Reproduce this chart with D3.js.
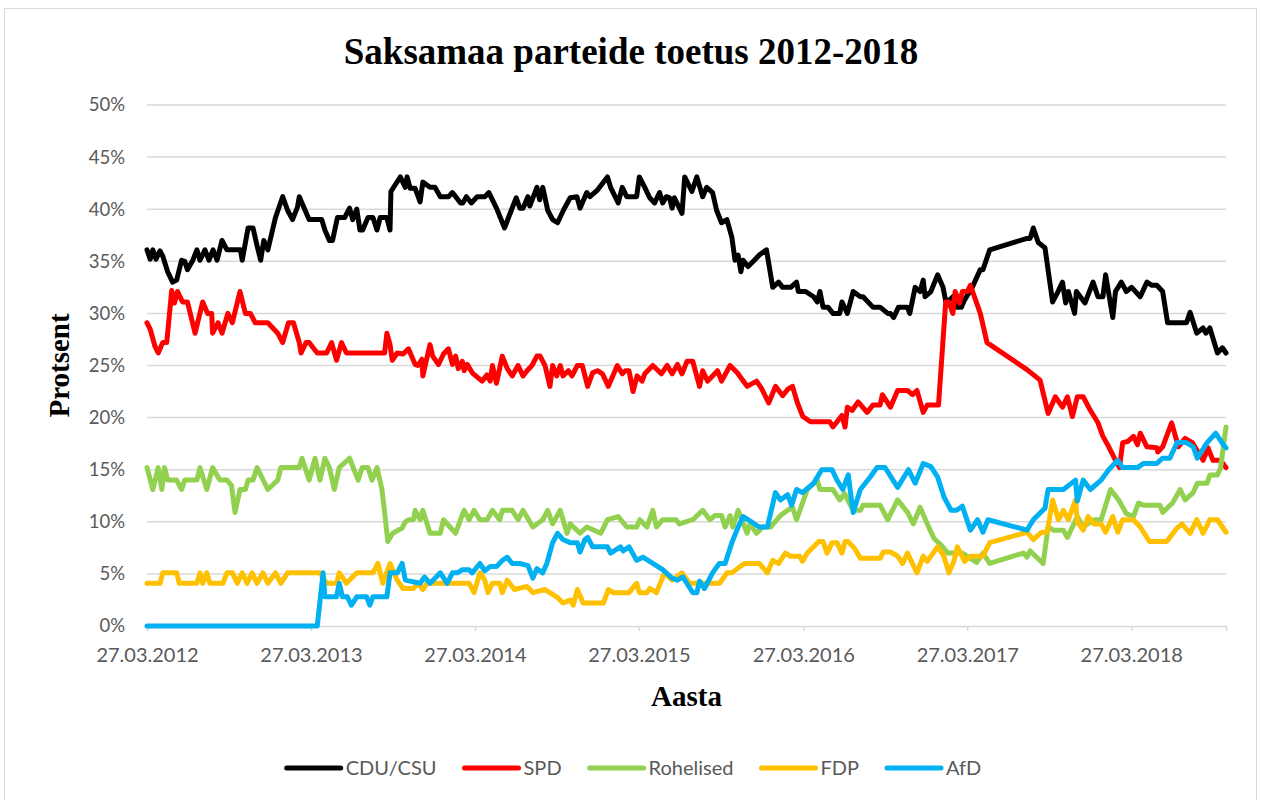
<!DOCTYPE html>
<html>
<head>
<meta charset="utf-8">
<script src="https://cdn.jsdelivr.net/npm/d3@7"></script>
<style>
  body { margin: 0; background: #fff; }
  svg { display: block; }
</style>
</head>
<body>
<svg id="chart"></svg>
<script>
// ---- data ----
const seriesNames = ["CDU/CSU", "SPD", "Rohelised", "FDP", "AfD"];
const seriesColors = ["#000000", "#ff0000", "#92d050", "#ffc000", "#00b0f0"];
const yTickValues = [0, 5, 10, 15, 20, 25, 30, 35, 40, 45, 50];
const xTickDates = ["2012-03-27", "2013-03-27", "2014-03-27", "2015-03-27", "2016-03-27", "2017-03-27", "2018-03-27"];
const xDomain = ["2012-03-27", "2018-10-24"];

const cduCsu = [["2012-03-27",36.1],["2012-04-03",35.2],["2012-04-09",36.1],["2012-04-16",35.2],["2012-04-25",36.0],["2012-05-01",35.5],["2012-05-12",34.0],["2012-05-23",33.0],["2012-06-01",33.2],["2012-06-12",35.1],["2012-06-19",35.0],["2012-06-25",34.2],["2012-07-07",35.1],["2012-07-16",36.1],["2012-07-23",35.1],["2012-08-03",36.1],["2012-08-12",35.1],["2012-08-21",36.1],["2012-08-30",35.1],["2012-09-10",37.0],["2012-09-21",36.1],["2012-10-21",36.1],["2012-10-25",35.1],["2012-11-07",38.2],["2012-11-18",38.2],["2012-11-27",36.5],["2012-12-05",35.1],["2012-12-12",37.0],["2012-12-21",36.1],["2013-01-07",39.2],["2013-01-23",41.2],["2013-02-03",39.9],["2013-02-14",39.0],["2013-02-25",40.2],["2013-03-01",41.2],["2013-03-12",40.1],["2013-03-23",39.0],["2013-04-20",39.0],["2013-04-27",38.0],["2013-05-07",37.0],["2013-05-14",37.0],["2013-05-25",39.2],["2013-06-10",39.2],["2013-06-21",40.1],["2013-06-28",39.0],["2013-07-07",40.0],["2013-07-14",38.0],["2013-07-20",38.0],["2013-08-01",39.2],["2013-08-12",39.2],["2013-08-21",38.0],["2013-08-28",39.2],["2013-09-12",39.2],["2013-09-19",38.0],["2013-09-21",41.7],["2013-10-12",43.1],["2013-10-23",42.1],["2013-10-27",43.1],["2013-11-03",42.0],["2013-11-14",42.0],["2013-11-25",40.7],["2013-12-01",42.6],["2013-12-17",42.1],["2013-12-28",42.1],["2014-01-09",41.2],["2014-01-27",41.2],["2014-02-05",41.6],["2014-02-23",40.6],["2014-02-28",40.6],["2014-03-08",41.2],["2014-03-19",40.6],["2014-04-01",41.2],["2014-04-18",41.2],["2014-04-27",41.6],["2014-05-14",40.1],["2014-06-01",38.2],["2014-06-16",39.9],["2014-06-27",41.1],["2014-07-05",40.1],["2014-07-12",40.1],["2014-07-23",41.2],["2014-07-27",40.3],["2014-08-12",42.1],["2014-08-18",40.9],["2014-08-25",42.1],["2014-09-05",39.9],["2014-09-16",39.0],["2014-09-27",38.7],["2014-10-10",39.9],["2014-10-25",41.1],["2014-11-09",41.2],["2014-11-16",40.1],["2014-12-01",41.6],["2014-12-08",41.2],["2014-12-24",41.8],["2015-01-16",43.1],["2015-01-23",42.1],["2015-02-09",40.6],["2015-02-18",42.1],["2015-02-28",41.2],["2015-03-22",41.2],["2015-03-28",43.1],["2015-04-09",42.1],["2015-04-20",41.1],["2015-05-01",40.6],["2015-05-12",41.6],["2015-05-19",40.6],["2015-05-27",41.2],["2015-06-03",41.1],["2015-06-09",40.1],["2015-06-14",41.1],["2015-07-01",39.6],["2015-07-07",43.1],["2015-07-23",41.7],["2015-08-03",43.1],["2015-08-16",41.2],["2015-08-25",42.1],["2015-09-07",41.6],["2015-09-16",39.9],["2015-09-27",38.7],["2015-10-09",39.0],["2015-10-20",37.3],["2015-10-27",35.1],["2015-11-03",35.6],["2015-11-09",34.0],["2015-11-14",35.1],["2015-11-25",34.5],["2015-12-09",35.1],["2015-12-20",35.6],["2016-01-05",36.1],["2016-01-19",32.5],["2016-02-01",33.0],["2016-02-10",32.5],["2016-02-28",32.5],["2016-03-12",33.0],["2016-03-16",32.1],["2016-04-01",32.1],["2016-04-19",31.6],["2016-04-27",31.1],["2016-05-03",32.1],["2016-05-10",30.6],["2016-05-21",30.6],["2016-06-01",30.0],["2016-06-16",30.0],["2016-06-21",31.1],["2016-07-03",30.0],["2016-07-16",32.1],["2016-08-01",31.6],["2016-08-07",31.6],["2016-08-29",30.6],["2016-09-14",30.6],["2016-10-01",30.0],["2016-10-07",30.0],["2016-10-14",29.6],["2016-10-25",30.6],["2016-11-14",30.6],["2016-11-19",30.0],["2016-12-01",32.5],["2016-12-12",32.1],["2016-12-19",33.2],["2016-12-23",31.6],["2017-01-05",32.1],["2017-01-20",33.7],["2017-02-01",32.5],["2017-02-08",31.0],["2017-02-23",31.6],["2017-03-03",30.6],["2017-03-14",30.6],["2017-03-21",31.3],["2017-04-07",32.5],["2017-04-25",34.2],["2017-05-01",34.2],["2017-05-16",36.1],["2017-08-07",37.2],["2017-08-14",37.2],["2017-08-21",38.2],["2017-09-01",36.8],["2017-09-16",36.3],["2017-10-03",31.1],["2017-10-14",32.0],["2017-10-25",33.0],["2017-11-01",31.0],["2017-11-07",32.1],["2017-11-21",30.0],["2017-11-25",32.1],["2017-12-14",31.0],["2018-01-01",33.0],["2018-01-12",31.6],["2018-01-23",31.6],["2018-01-29",33.7],["2018-02-14",29.6],["2018-02-20",32.1],["2018-03-05",33.0],["2018-03-16",32.1],["2018-03-28",32.5],["2018-04-16",31.6],["2018-05-01",33.0],["2018-05-12",32.7],["2018-05-23",32.7],["2018-06-05",32.1],["2018-06-16",29.1],["2018-07-28",29.1],["2018-08-05",30.1],["2018-08-20",28.1],["2018-09-03",28.6],["2018-09-09",28.1],["2018-09-18",28.6],["2018-10-05",26.2],["2018-10-16",26.7],["2018-10-24",26.2]];

const spd = [["2012-03-27",29.1],["2012-04-03",28.5],["2012-04-14",26.8],["2012-04-21",26.2],["2012-05-01",27.2],["2012-05-10",27.2],["2012-05-21",32.2],["2012-05-27",31.0],["2012-06-03",32.1],["2012-06-14",31.1],["2012-06-25",31.1],["2012-07-12",28.1],["2012-07-29",31.1],["2012-08-09",30.0],["2012-08-18",30.0],["2012-08-20",28.1],["2012-09-01",29.1],["2012-09-10",28.1],["2012-09-23",30.0],["2012-10-03",29.1],["2012-10-20",32.1],["2012-11-01",30.0],["2012-11-12",30.0],["2012-11-23",29.1],["2012-12-21",29.1],["2013-01-12",28.1],["2013-01-23",27.2],["2013-02-05",29.1],["2013-02-16",29.1],["2013-03-01",27.2],["2013-03-05",26.2],["2013-03-16",27.2],["2013-03-23",27.2],["2013-04-10",26.2],["2013-05-01",26.2],["2013-05-12",27.2],["2013-05-23",25.5],["2013-06-03",27.2],["2013-06-14",26.2],["2013-09-07",26.2],["2013-09-12",28.1],["2013-09-19",27.0],["2013-09-24",25.5],["2013-10-05",26.2],["2013-10-18",26.1],["2013-10-30",26.6],["2013-11-14",25.1],["2013-11-20",25.0],["2013-11-29",25.6],["2013-12-01",24.0],["2013-12-17",27.0],["2013-12-23",25.9],["2014-01-05",25.1],["2014-01-16",26.1],["2014-01-27",26.6],["2014-02-05",25.1],["2014-02-12",25.9],["2014-02-18",24.7],["2014-02-27",25.4],["2014-03-03",24.5],["2014-03-10",25.1],["2014-03-21",24.3],["2014-04-12",23.5],["2014-04-23",24.1],["2014-04-30",23.5],["2014-05-05",25.0],["2014-05-14",23.3],["2014-05-27",25.9],["2014-06-07",24.7],["2014-06-18",24.0],["2014-07-01",25.0],["2014-07-12",24.0],["2014-07-21",24.5],["2014-08-01",25.0],["2014-08-12",25.9],["2014-08-19",25.9],["2014-08-30",25.0],["2014-09-10",23.0],["2014-09-16",25.0],["2014-09-25",24.0],["2014-10-03",25.0],["2014-10-09",24.0],["2014-10-21",24.5],["2014-10-29",24.0],["2014-11-10",25.0],["2014-11-21",25.0],["2014-12-03",23.0],["2014-12-14",24.3],["2014-12-25",24.5],["2015-01-05",24.2],["2015-01-18",23.0],["2015-02-07",25.0],["2015-02-18",24.2],["2015-02-25",24.5],["2015-03-05",24.5],["2015-03-14",22.5],["2015-03-23",24.0],["2015-04-03",23.5],["2015-04-09",24.2],["2015-04-27",25.0],["2015-05-16",24.2],["2015-05-29",25.0],["2015-06-09",24.2],["2015-06-21",25.1],["2015-07-01",24.2],["2015-07-12",25.4],["2015-07-25",25.4],["2015-08-09",23.0],["2015-08-16",24.5],["2015-08-27",23.5],["2015-09-07",24.0],["2015-09-18",24.5],["2015-09-27",23.5],["2015-10-16",25.0],["2015-11-01",24.3],["2015-11-23",23.0],["2015-12-14",23.5],["2015-12-25",22.8],["2016-01-10",21.4],["2016-01-25",23.0],["2016-02-10",22.1],["2016-02-21",22.7],["2016-03-03",23.0],["2016-03-14",21.4],["2016-03-26",20.1],["2016-04-12",19.6],["2016-05-25",19.6],["2016-06-01",19.1],["2016-06-21",20.2],["2016-06-28",19.1],["2016-07-03",21.0],["2016-07-14",20.7],["2016-07-27",21.5],["2016-08-16",20.5],["2016-08-29",21.2],["2016-09-14",21.2],["2016-09-19",22.2],["2016-10-07",21.0],["2016-10-23",22.6],["2016-11-14",22.6],["2016-11-25",22.2],["2016-12-05",22.6],["2016-12-19",20.5],["2016-12-28",21.2],["2017-01-22",21.2],["2017-02-07",31.1],["2017-02-14",31.1],["2017-02-23",30.0],["2017-02-28",32.1],["2017-03-10",31.0],["2017-03-16",32.1],["2017-03-27",32.1],["2017-04-03",32.7],["2017-04-25",30.0],["2017-05-10",27.2],["2017-08-07",24.6],["2017-09-05",23.6],["2017-09-23",20.4],["2017-10-09",22.0],["2017-10-25",21.0],["2017-11-05",22.0],["2017-11-16",20.1],["2017-11-27",22.0],["2017-12-10",22.0],["2017-12-26",20.7],["2018-01-12",19.5],["2018-01-23",18.2],["2018-02-05",17.2],["2018-02-20",15.9],["2018-03-01",15.2],["2018-03-08",17.6],["2018-03-19",17.7],["2018-04-01",18.2],["2018-04-10",17.4],["2018-04-16",18.5],["2018-05-01",17.2],["2018-05-23",17.1],["2018-05-25",16.7],["2018-06-05",17.2],["2018-06-25",19.5],["2018-07-10",17.2],["2018-07-25",18.0],["2018-08-10",17.6],["2018-09-03",15.9],["2018-09-14",17.1],["2018-09-25",15.9],["2018-10-12",15.9],["2018-10-24",15.2]];

const rohelised = [["2012-03-27",15.2],["2012-04-09",13.1],["2012-04-21",15.2],["2012-04-29",13.1],["2012-05-05",15.2],["2012-05-12",14.0],["2012-06-01",14.0],["2012-06-12",13.1],["2012-06-19",14.0],["2012-07-16",14.0],["2012-07-23",15.2],["2012-08-07",13.1],["2012-08-20",15.2],["2012-09-05",14.0],["2012-09-21",14.0],["2012-10-01",13.5],["2012-10-09",10.9],["2012-10-20",13.1],["2012-11-01",13.1],["2012-11-07",14.0],["2012-11-18",14.0],["2012-11-27",15.2],["2012-12-21",13.1],["2013-01-12",14.0],["2013-01-19",15.2],["2013-03-01",15.2],["2013-03-07",16.1],["2013-03-23",14.0],["2013-04-05",16.1],["2013-04-16",14.0],["2013-04-27",16.1],["2013-05-07",15.2],["2013-05-18",13.1],["2013-05-29",15.2],["2013-06-21",16.1],["2013-07-10",14.0],["2013-07-19",15.2],["2013-08-01",15.2],["2013-08-10",14.0],["2013-08-21",15.2],["2013-09-01",13.1],["2013-09-07",10.9],["2013-09-14",8.1],["2013-09-25",8.9],["2013-10-16",9.4],["2013-10-23",10.0],["2013-10-30",10.2],["2013-11-10",10.2],["2013-11-14",11.1],["2013-11-25",10.2],["2013-12-01",11.1],["2013-12-17",8.9],["2014-01-09",8.9],["2014-01-16",10.2],["2014-02-12",8.9],["2014-02-23",10.2],["2014-03-03",11.1],["2014-03-14",10.2],["2014-03-25",11.1],["2014-04-07",10.2],["2014-04-23",10.2],["2014-05-05",11.1],["2014-05-21",10.2],["2014-05-27",11.1],["2014-06-18",11.1],["2014-07-01",10.2],["2014-07-12",11.1],["2014-08-03",9.5],["2014-08-25",10.2],["2014-09-05",11.1],["2014-09-16",9.8],["2014-10-03",11.1],["2014-10-18",8.9],["2014-10-25",9.8],["2014-11-16",8.9],["2014-12-01",9.5],["2015-01-01",8.9],["2015-01-16",10.2],["2015-02-09",10.5],["2015-02-28",9.5],["2015-03-22",9.5],["2015-03-29",10.2],["2015-04-14",9.5],["2015-04-27",11.1],["2015-05-05",9.5],["2015-05-19",10.2],["2015-06-18",10.2],["2015-06-25",9.8],["2015-07-25",10.2],["2015-08-16",11.1],["2015-09-01",10.2],["2015-09-12",10.6],["2015-09-27",10.6],["2015-10-05",9.5],["2015-10-16",10.6],["2015-10-22",9.5],["2015-11-03",11.1],["2015-11-23",8.9],["2015-11-29",9.8],["2015-12-14",8.9],["2015-12-28",9.5],["2016-01-14",9.5],["2016-02-05",10.6],["2016-02-21",11.1],["2016-03-03",11.4],["2016-03-12",10.2],["2016-04-05",13.1],["2016-04-27",14.0],["2016-05-03",13.1],["2016-06-01",13.1],["2016-06-16",12.1],["2016-06-27",12.7],["2016-07-16",11.1],["2016-08-01",11.1],["2016-08-07",11.6],["2016-09-14",11.6],["2016-10-01",10.2],["2016-10-23",12.1],["2016-11-14",10.9],["2016-11-27",9.8],["2016-12-12",11.4],["2016-12-28",9.8],["2017-01-12",8.4],["2017-01-27",7.8],["2017-02-12",7.0],["2017-03-16",7.0],["2017-04-17",6.1],["2017-05-01",7.0],["2017-05-16",6.0],["2017-07-30",7.0],["2017-08-07",6.6],["2017-08-14",7.2],["2017-09-12",6.0],["2017-09-23",9.5],["2017-10-05",9.2],["2017-10-27",9.2],["2017-11-05",8.5],["2017-11-27",10.5],["2017-12-10",9.5],["2018-01-03",10.2],["2018-01-19",10.2],["2018-02-09",13.1],["2018-02-27",12.1],["2018-03-16",10.8],["2018-04-01",10.5],["2018-04-12",11.8],["2018-04-23",11.6],["2018-05-30",11.6],["2018-06-05",10.9],["2018-06-27",11.8],["2018-07-14",13.1],["2018-07-25",12.1],["2018-08-12",12.8],["2018-08-21",13.7],["2018-09-12",13.7],["2018-09-18",14.5],["2018-10-05",14.5],["2018-10-12",15.2],["2018-10-24",19.1]];

const fdp = [["2012-03-27",4.1],["2012-04-25",4.1],["2012-05-01",5.1],["2012-06-01",5.1],["2012-06-07",4.1],["2012-07-16",4.1],["2012-07-23",5.1],["2012-07-29",4.1],["2012-08-07",5.1],["2012-08-14",4.1],["2012-09-12",4.1],["2012-09-21",5.1],["2012-10-03",5.1],["2012-10-14",4.1],["2012-10-25",5.1],["2012-11-05",4.1],["2012-11-16",5.1],["2012-11-27",4.1],["2012-12-10",5.1],["2012-12-21",4.1],["2013-01-07",5.1],["2013-01-19",4.1],["2013-02-03",5.1],["2013-04-16",5.1],["2013-05-01",4.1],["2013-05-23",4.1],["2013-05-29",5.1],["2013-06-14",4.1],["2013-07-07",5.1],["2013-08-12",5.1],["2013-08-23",6.0],["2013-09-03",4.1],["2013-09-19",6.0],["2013-10-05",4.4],["2013-10-18",3.6],["2013-11-10",3.6],["2013-11-20",4.1],["2013-12-01",3.5],["2013-12-10",4.1],["2014-03-14",4.1],["2014-03-25",3.2],["2014-04-07",5.1],["2014-04-18",4.4],["2014-04-25",3.2],["2014-05-05",4.1],["2014-05-21",4.1],["2014-05-27",3.2],["2014-06-07",4.4],["2014-06-23",3.5],["2014-07-21",3.8],["2014-08-03",3.2],["2014-08-30",3.5],["2014-09-25",2.8],["2014-10-09",2.2],["2014-10-25",2.5],["2014-11-01",2.0],["2014-11-10",3.5],["2014-11-23",2.2],["2015-01-07",2.2],["2015-01-18",3.5],["2015-01-29",3.2],["2015-03-05",3.2],["2015-03-22",4.1],["2015-03-28",3.2],["2015-04-14",3.2],["2015-04-20",3.6],["2015-05-05",3.2],["2015-05-23",5.1],["2015-06-09",4.4],["2015-07-01",5.1],["2015-07-18",4.1],["2015-09-23",4.1],["2015-10-09",5.1],["2015-10-20",5.1],["2015-11-07",5.7],["2015-11-18",6.0],["2015-12-20",6.0],["2016-01-07",5.1],["2016-01-19",6.3],["2016-02-01",6.0],["2016-02-16",7.0],["2016-02-27",6.7],["2016-03-19",6.7],["2016-03-25",6.2],["2016-04-05",7.0],["2016-04-19",7.6],["2016-04-30",8.1],["2016-05-10",8.1],["2016-05-19",7.0],["2016-05-30",8.0],["2016-06-10",8.0],["2016-06-21",7.0],["2016-06-28",8.1],["2016-07-05",8.1],["2016-07-20",7.4],["2016-08-01",6.5],["2016-09-14",6.5],["2016-09-21",7.1],["2016-10-07",7.1],["2016-10-23",6.7],["2016-11-03",6.0],["2016-11-14",7.0],["2016-11-25",6.0],["2016-12-05",5.1],["2016-12-19",6.7],["2016-12-28",6.2],["2017-01-20",7.6],["2017-02-03",6.7],["2017-02-14",5.1],["2017-02-25",6.2],["2017-03-05",7.6],["2017-03-21",6.2],["2017-04-03",6.7],["2017-05-01",6.7],["2017-05-16",8.0],["2017-08-07",9.0],["2017-08-21",8.3],["2017-09-09",9.0],["2017-09-21",9.0],["2017-10-03",12.1],["2017-10-16",10.2],["2017-10-27",11.1],["2017-11-07",10.2],["2017-11-23",12.1],["2017-11-27",10.0],["2017-12-10",9.2],["2017-12-21",10.5],["2018-01-03",9.8],["2018-01-19",9.8],["2018-01-29",9.0],["2018-02-14",10.5],["2018-02-25",9.0],["2018-03-08",10.2],["2018-04-01",10.2],["2018-04-16",9.5],["2018-05-07",8.1],["2018-06-14",8.1],["2018-07-07",9.4],["2018-07-18",9.8],["2018-08-05",8.9],["2018-08-20",10.2],["2018-09-03",8.9],["2018-09-18",10.2],["2018-10-05",10.2],["2018-10-24",9.0]];

const afd = [["2012-03-27",0],["2013-04-10",0],["2013-04-23",5.1],["2013-04-27",2.8],["2013-05-23",2.8],["2013-05-29",4.1],["2013-06-05",2.8],["2013-06-16",2.8],["2013-06-25",2.0],["2013-07-07",2.8],["2013-07-29",2.8],["2013-08-05",2.0],["2013-08-12",2.8],["2013-09-12",2.8],["2013-09-19",5.1],["2013-10-05",5.1],["2013-10-16",6.0],["2013-10-23",4.4],["2013-11-25",4.1],["2013-12-05",4.7],["2013-12-17",4.1],["2014-01-09",5.1],["2014-01-24",4.1],["2014-02-05",5.1],["2014-02-16",5.1],["2014-02-27",5.4],["2014-03-14",5.4],["2014-03-21",5.1],["2014-04-07",6.0],["2014-04-18",5.3],["2014-04-30",5.7],["2014-05-14",5.7],["2014-05-27",6.3],["2014-06-07",6.6],["2014-06-18",6.0],["2014-07-05",6.0],["2014-07-23",5.8],["2014-08-03",4.6],["2014-08-12",5.5],["2014-08-25",5.1],["2014-09-03",6.0],["2014-09-16",8.0],["2014-09-27",8.9],["2014-10-09",8.3],["2014-10-25",8.0],["2014-11-10",8.0],["2014-11-16",7.1],["2014-11-27",8.3],["2014-12-03",8.5],["2014-12-14",7.6],["2015-01-16",7.6],["2015-01-23",7.0],["2015-02-14",7.6],["2015-02-20",7.2],["2015-03-05",7.6],["2015-03-22",6.3],["2015-04-05",6.6],["2015-04-27",6.0],["2015-05-19",5.4],["2015-06-09",4.6],["2015-06-21",4.4],["2015-07-03",4.7],["2015-07-25",3.2],["2015-08-03",3.2],["2015-08-09",4.3],["2015-08-20",3.6],["2015-09-07",5.1],["2015-09-22",6.0],["2015-10-05",6.0],["2015-10-20",8.0],["2015-11-03",9.5],["2015-11-14",10.5],["2015-11-25",10.2],["2015-12-20",9.5],["2016-01-07",9.5],["2016-01-25",12.8],["2016-02-05",12.1],["2016-02-21",12.6],["2016-03-01",11.6],["2016-03-12",13.1],["2016-03-25",12.8],["2016-04-19",13.7],["2016-05-07",15.0],["2016-05-30",15.0],["2016-06-10",14.0],["2016-06-23",13.1],["2016-07-05",14.5],["2016-07-16",10.9],["2016-08-01",13.1],["2016-08-23",14.3],["2016-09-07",15.2],["2016-09-25",15.2],["2016-10-23",13.3],["2016-11-16",15.0],["2016-12-01",13.7],["2016-12-19",15.6],["2017-01-05",15.3],["2017-01-20",14.3],["2017-02-03",12.4],["2017-02-19",11.1],["2017-03-03",11.1],["2017-03-16",11.5],["2017-04-03",9.2],["2017-04-19",10.2],["2017-05-01",9.0],["2017-05-12",10.2],["2017-08-07",9.2],["2017-08-21",10.2],["2017-09-16",11.3],["2017-09-23",13.1],["2017-10-27",13.1],["2017-11-23",14.0],["2017-11-27",12.0],["2017-12-10",14.0],["2017-12-26",13.1],["2018-01-19",14.0],["2018-02-05",15.0],["2018-02-25",15.9],["2018-03-08",15.2],["2018-04-10",15.2],["2018-04-23",15.6],["2018-05-23",15.6],["2018-06-05",16.1],["2018-06-21",16.1],["2018-07-07",17.6],["2018-07-28",17.6],["2018-08-12",17.2],["2018-08-21",16.1],["2018-09-12",17.6],["2018-10-01",18.5],["2018-10-18",17.4],["2018-10-24",17.1]];

const seriesData = [cduCsu, spd, rohelised, fdp, afd];

// ---- layout ----
const W = 1261, H = 800;
const margin = { top: 105, right: 35, bottom: 174, left: 147 };
const plotW = W - margin.left - margin.right;
const plotH = H - margin.top - margin.bottom;
const textGray = "#595959";
const tickFont = "Lato, 'Open Sans', sans-serif";
const serif = "'Liberation Serif', 'Times New Roman', serif";

const parseDate = d3.timeParse("%Y-%m-%d");
const fmtDate = d3.timeFormat("%d.%m.%Y");

const svg = d3.select("#chart").attr("width", W).attr("height", H);

// chart frame
svg.append("rect")
  .attr("x", 4.5).attr("y", 8.5)
  .attr("width", 1252).attr("height", 800)
  .attr("fill", "#fff").attr("stroke", "#d9d9d9").attr("stroke-width", 1);

const g = svg.append("g").attr("transform", "translate(" + margin.left + "," + margin.top + ")");

const x = d3.scaleTime().domain(xDomain.map(parseDate)).range([0, plotW]);
const y = d3.scaleLinear().domain([0, 50]).range([plotH, 0]);

// gridlines
g.append("g")
  .selectAll("line")
  .data(yTickValues.filter(v => v > 0))
  .enter().append("line")
  .attr("x1", 0).attr("x2", plotW)
  .attr("y1", d => y(d)).attr("y2", d => y(d))
  .attr("stroke", "#d9d9d9").attr("stroke-width", 1.5);

// y axis (labels only)
const yAxis = g.append("g")
  .call(d3.axisLeft(y).tickValues(yTickValues).tickFormat(d => d + "%").tickSize(0).tickPadding(22));
yAxis.select(".domain").remove();
yAxis.selectAll("text")
  .attr("fill", textGray)
  .style("font-family", tickFont).style("font-size", "18.5px");

// x axis
const xAxis = g.append("g")
  .attr("transform", "translate(0," + plotH + ")")
  .call(d3.axisBottom(x).tickValues(xTickDates.map(parseDate)).tickFormat(fmtDate).tickSize(5).tickPadding(17));
xAxis.select(".domain").attr("stroke", "#d9d9d9").attr("stroke-width", 1.5);
xAxis.selectAll(".tick line").attr("stroke", "#d9d9d9").attr("stroke-width", 1.5);
xAxis.selectAll("text")
  .attr("fill", textGray)
  .style("font-family", tickFont).style("font-size", "20px");

// lines
const line = d3.line()
  .x(d => x(parseDate(d[0])))
  .y(d => y(d[1]));

g.append("g")
  .selectAll("path")
  .data(seriesData)
  .enter().append("path")
  .attr("d", d => line(d))
  .attr("fill", "none")
  .attr("stroke", (d, i) => seriesColors[i])
  .attr("stroke-width", 5)
  .attr("stroke-linejoin", "round")
  .attr("stroke-linecap", "round");

// titles
svg.append("text")
  .attr("x", 631).attr("y", 64)
  .attr("text-anchor", "middle")
  .style("font-family", serif).style("font-weight", "bold").style("font-size", "37px")
  .text("Saksamaa parteide toetus 2012-2018");

svg.append("text")
  .attr("x", margin.left + plotW / 2).attr("y", 706)
  .attr("text-anchor", "middle")
  .style("font-family", serif).style("font-weight", "bold").style("font-size", "29px")
  .text("Aasta");

svg.append("text")
  .attr("transform", "translate(69," + (margin.top + plotH / 2) + ") rotate(-90)")
  .attr("text-anchor", "middle")
  .style("font-family", serif).style("font-weight", "bold").style("font-size", "29px")
  .text("Protsent");

// legend
const legend = svg.append("g").attr("class", "legend");
const items = legend.selectAll("g")
  .data(seriesNames)
  .enter().append("g");
items.append("line")
  .attr("x1", 0).attr("x2", 54).attr("y1", 0).attr("y2", 0)
  .attr("stroke", (d, i) => seriesColors[i])
  .attr("stroke-width", 5)
  .attr("stroke-linecap", "round");
items.append("text")
  .attr("x", 59).attr("y", 0).attr("dy", "0.35em")
  .attr("fill", textGray)
  .style("font-family", tickFont).style("font-size", "20px")
  .text(d => d);

let offset = 0;
items.each(function () {
  const item = d3.select(this);
  item.attr("transform", "translate(" + offset + ",0)");
  offset += 59 + item.select("text").node().getComputedTextLength() + 28;
});
const legendW = offset - 28;
legend.attr("transform", "translate(" + (634 - legendW / 2) + ",768)");
</script>
</body>
</html>
